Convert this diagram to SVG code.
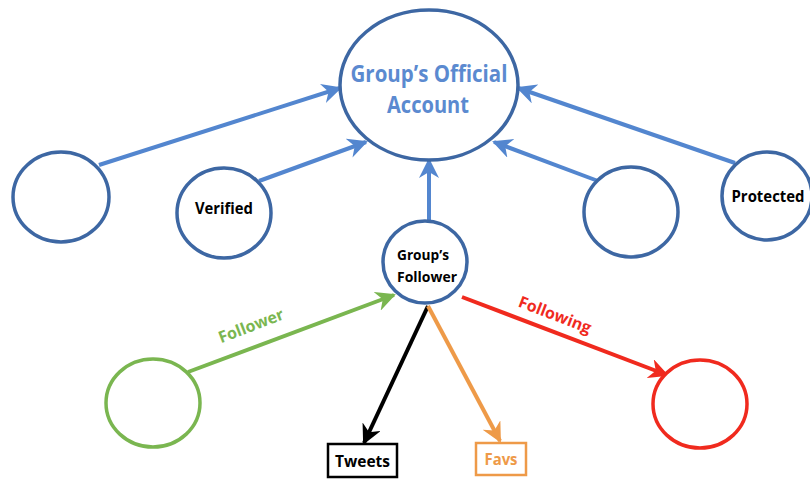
<svg xmlns="http://www.w3.org/2000/svg" width="810" height="479" viewBox="0 0 810 479">
  <style>
    .node { fill: #ffffff; stroke: #3d67a3; stroke-width: 3.5; }
    .lbl { font-family: "Open Sans", "Liberation Sans", sans-serif; font-weight: bold; text-anchor: middle; fill: #000000; }
    .edge { fill: none; stroke-width: 4; }
    .blue { stroke: #5386cf; }
  </style>
  <defs>
    <marker id="ah-blue" viewBox="0 0 10 10" refX="9" refY="5" markerWidth="5" markerHeight="5" orient="auto" markerUnits="strokeWidth">
      <path d="M0,0 L10,5 L0,10 L3,5 z" fill="#5386cf"/>
    </marker>
    <marker id="ah-green" viewBox="0 0 10 10" refX="9" refY="5" markerWidth="5" markerHeight="5" orient="auto" markerUnits="strokeWidth">
      <path d="M0,0 L10,5 L0,10 L3,5 z" fill="#7ab650"/>
    </marker>
    <marker id="ah-black" viewBox="0 0 10 10" refX="9" refY="5" markerWidth="5" markerHeight="5" orient="auto" markerUnits="strokeWidth">
      <path d="M0,0 L10,5 L0,10 L3,5 z" fill="#000000"/>
    </marker>
    <marker id="ah-orange" viewBox="0 0 10 10" refX="9" refY="5" markerWidth="5" markerHeight="5" orient="auto" markerUnits="strokeWidth">
      <path d="M0,0 L10,5 L0,10 L3,5 z" fill="#ee9a48"/>
    </marker>
    <marker id="ah-red" viewBox="0 0 10 10" refX="9" refY="5" markerWidth="5" markerHeight="5" orient="auto" markerUnits="strokeWidth">
      <path d="M0,0 L10,5 L0,10 L3,5 z" fill="#f02a1e"/>
    </marker>
  </defs>

  <g id="connectors">
    <line class="edge blue" x1="99" y1="165" x2="340" y2="88" marker-end="url(#ah-blue)"/>
    <line class="edge blue" x1="259" y1="181" x2="366" y2="142" marker-end="url(#ah-blue)"/>
    <line class="edge blue" x1="429" y1="221" x2="429" y2="160" marker-end="url(#ah-blue)"/>
    <line class="edge blue" x1="598" y1="181" x2="494" y2="142" marker-end="url(#ah-blue)"/>
    <line class="edge blue" x1="735" y1="163" x2="518" y2="88" marker-end="url(#ah-blue)"/>
    <line class="edge" stroke="#7ab650" x1="188" y1="372" x2="394" y2="295" marker-end="url(#ah-green)"/>
    <line class="edge" stroke="#000000" x1="428" y1="306" x2="364" y2="443" marker-end="url(#ah-black)"/>
    <line class="edge" stroke="#ee9a48" x1="428" y1="306" x2="500" y2="441" marker-end="url(#ah-orange)"/>
    <line class="edge" stroke="#f02a1e" x1="462" y1="297" x2="667" y2="375" marker-end="url(#ah-red)"/>
    <text class="lbl" style="fill:#7ab650" font-size="16" transform="translate(253,331) rotate(-21)">Follower</text>
    <text class="lbl" style="fill:#f02a1e" font-size="16" transform="translate(553,320) rotate(21)">Following</text>
  </g>

  <g id="official">
    <ellipse class="node" cx="429" cy="85" rx="89" ry="75"/>
    <text class="lbl" style="fill:#5b8ad0" font-size="23" x="429" y="82" textLength="157" lengthAdjust="spacingAndGlyphs">Group’s Official</text>
    <text class="lbl" style="fill:#5b8ad0" font-size="23" x="428" y="113" textLength="82" lengthAdjust="spacingAndGlyphs">Account</text>
  </g>
  <g id="user-left">
    <ellipse class="node" cx="61" cy="197" rx="48" ry="45"/>
  </g>
  <g id="verified">
    <ellipse class="node" cx="224" cy="213" rx="47" ry="45"/>
    <text class="lbl" font-size="15.5" x="224" y="214" textLength="58" lengthAdjust="spacingAndGlyphs">Verified</text>
  </g>
  <g id="user-right">
    <ellipse class="node" cx="631" cy="212" rx="47" ry="45"/>
  </g>
  <g id="protected">
    <ellipse class="node" cx="767" cy="196" rx="45" ry="44"/>
    <text class="lbl" font-size="15.5" x="768" y="202" textLength="73" lengthAdjust="spacingAndGlyphs">Protected</text>
  </g>
  <g id="group-follower">
    <ellipse class="node" cx="425" cy="262" rx="42" ry="41"/>
    <text class="lbl" font-size="14" x="423" y="260" textLength="52" lengthAdjust="spacingAndGlyphs">Group’s</text>
    <text class="lbl" font-size="14" x="427" y="282" textLength="60" lengthAdjust="spacingAndGlyphs">Follower</text>
  </g>
  <g id="follower-user">
    <ellipse cx="153" cy="403" rx="47" ry="44" fill="#ffffff" stroke="#7ab650" stroke-width="3.5"/>
  </g>
  <g id="following-user">
    <ellipse cx="700" cy="404" rx="47" ry="44" fill="#ffffff" stroke="#f02a1e" stroke-width="3.5"/>
  </g>
  <g id="tweets">
    <rect x="328" y="444" width="69" height="33" fill="#ffffff" stroke="#000000" stroke-width="2.5"/>
    <text class="lbl" font-size="16" x="362.5" y="467" textLength="55" lengthAdjust="spacingAndGlyphs">Tweets</text>
  </g>
  <g id="favs">
    <rect x="476" y="443" width="50" height="32" fill="#ffffff" stroke="#ee9a48" stroke-width="2.5"/>
    <text class="lbl" style="fill:#ee9a48" font-size="16" x="501" y="465" textLength="33" lengthAdjust="spacingAndGlyphs">Favs</text>
  </g>
</svg>
